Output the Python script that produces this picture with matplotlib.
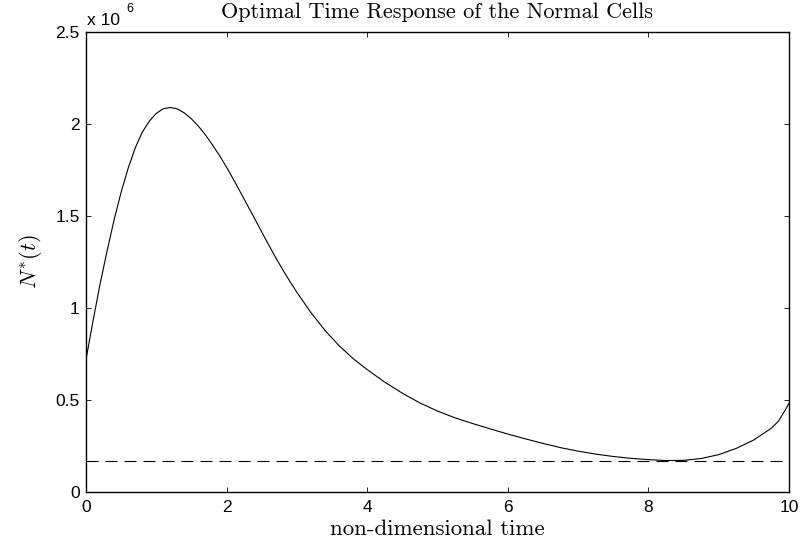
import matplotlib
matplotlib.use("Agg")
import matplotlib.pyplot as plt

# non-dimensional time and N*(t) in units of 1e6
t = [0.0, 0.1, 0.2, 0.3, 0.4, 0.5, 0.6, 0.7, 0.8, 0.9,
     1.0, 1.1, 1.2, 1.3, 1.4, 1.5, 1.6, 1.7, 1.8, 1.9,
     2.0, 2.1, 2.2, 2.3, 2.4, 2.5, 2.6, 2.7, 2.8, 2.9,
     3.0, 3.2, 3.4, 3.6, 3.8, 4.0, 4.25, 4.5, 4.75, 5.0,
     5.25, 5.5, 5.75, 6.0, 6.25, 6.5, 6.75, 7.0, 7.25, 7.5,
     7.75, 8.0, 8.25, 8.5, 8.75, 9.0, 9.25, 9.5, 9.75, 9.85,
     9.95, 10.0]
N = [0.72, 0.93, 1.13, 1.31, 1.48, 1.63, 1.76, 1.87, 1.955, 2.015,
     2.058, 2.083, 2.09, 2.082, 2.06, 2.028, 1.988, 1.94, 1.886, 1.828,
     1.765, 1.697, 1.627, 1.556, 1.485, 1.413, 1.342, 1.273, 1.207, 1.145,
     1.085, 0.975, 0.878, 0.795, 0.725, 0.665, 0.597, 0.537, 0.484, 0.44,
     0.403, 0.372, 0.343, 0.315, 0.289, 0.264, 0.241, 0.222, 0.206, 0.193,
     0.183, 0.176, 0.171, 0.172, 0.182, 0.203, 0.237, 0.283, 0.347, 0.385,
     0.448, 0.482]
threshold = 0.17

xticks = [0, 2, 4, 6, 8, 10]
yticks = [0, 0.5, 1, 1.5, 2, 2.5]
yticklabels = ["0", "0.5", "1", "1.5", "2", "2.5"]

fig = plt.figure(figsize=(8.04, 5.46), dpi=100)
ax = fig.add_axes([86/804, 1 - 492/546, (789-86)/804, (492-32)/546])

ax.plot(t, N, color="black", lw=0.8)
ln, = ax.plot([0, 10], [threshold, threshold], color="black", lw=0.8)
ln.set_dashes((10.8, 6.3))

ax.set_xlim(0, 10)
ax.set_ylim(0, 2.5)
ax.set_xticks(xticks)
ax.set_yticks(yticks)
ax.set_yticklabels(yticklabels)
ax.tick_params(direction="in", top=True, right=True, length=3.6, width=0.6,
               labelsize=12.5)
ax.tick_params(axis="x", pad=6)
ax.tick_params(axis="y", pad=4.5)
for lab in ax.get_xticklabels() + ax.get_yticklabels():
    lab.set_fontfamily("Liberation Sans")
for s in ax.spines.values():
    s.set_linewidth(1.0)

ax.set_title("Optimal Time Response of the Normal Cells", fontfamily="cmr10",
             fontsize=16, pad=10)
ax.set_xlabel("non-dimensional time", fontfamily="cmr10", fontsize=16.5, labelpad=3)
ax.set_ylabel(r"$N^{*}(t)$", fontsize=16, math_fontfamily="cm", labelpad=8)

ax.text(0.0015, 1.015, "x 10", transform=ax.transAxes, fontfamily="Liberation Sans",
        fontsize=12.5, ha="left", va="baseline")
ax.text(0.058, 1.043, "6", transform=ax.transAxes, fontfamily="Liberation Sans",
        fontsize=9, ha="left", va="baseline")

fig.savefig("out.png", dpi=100)
